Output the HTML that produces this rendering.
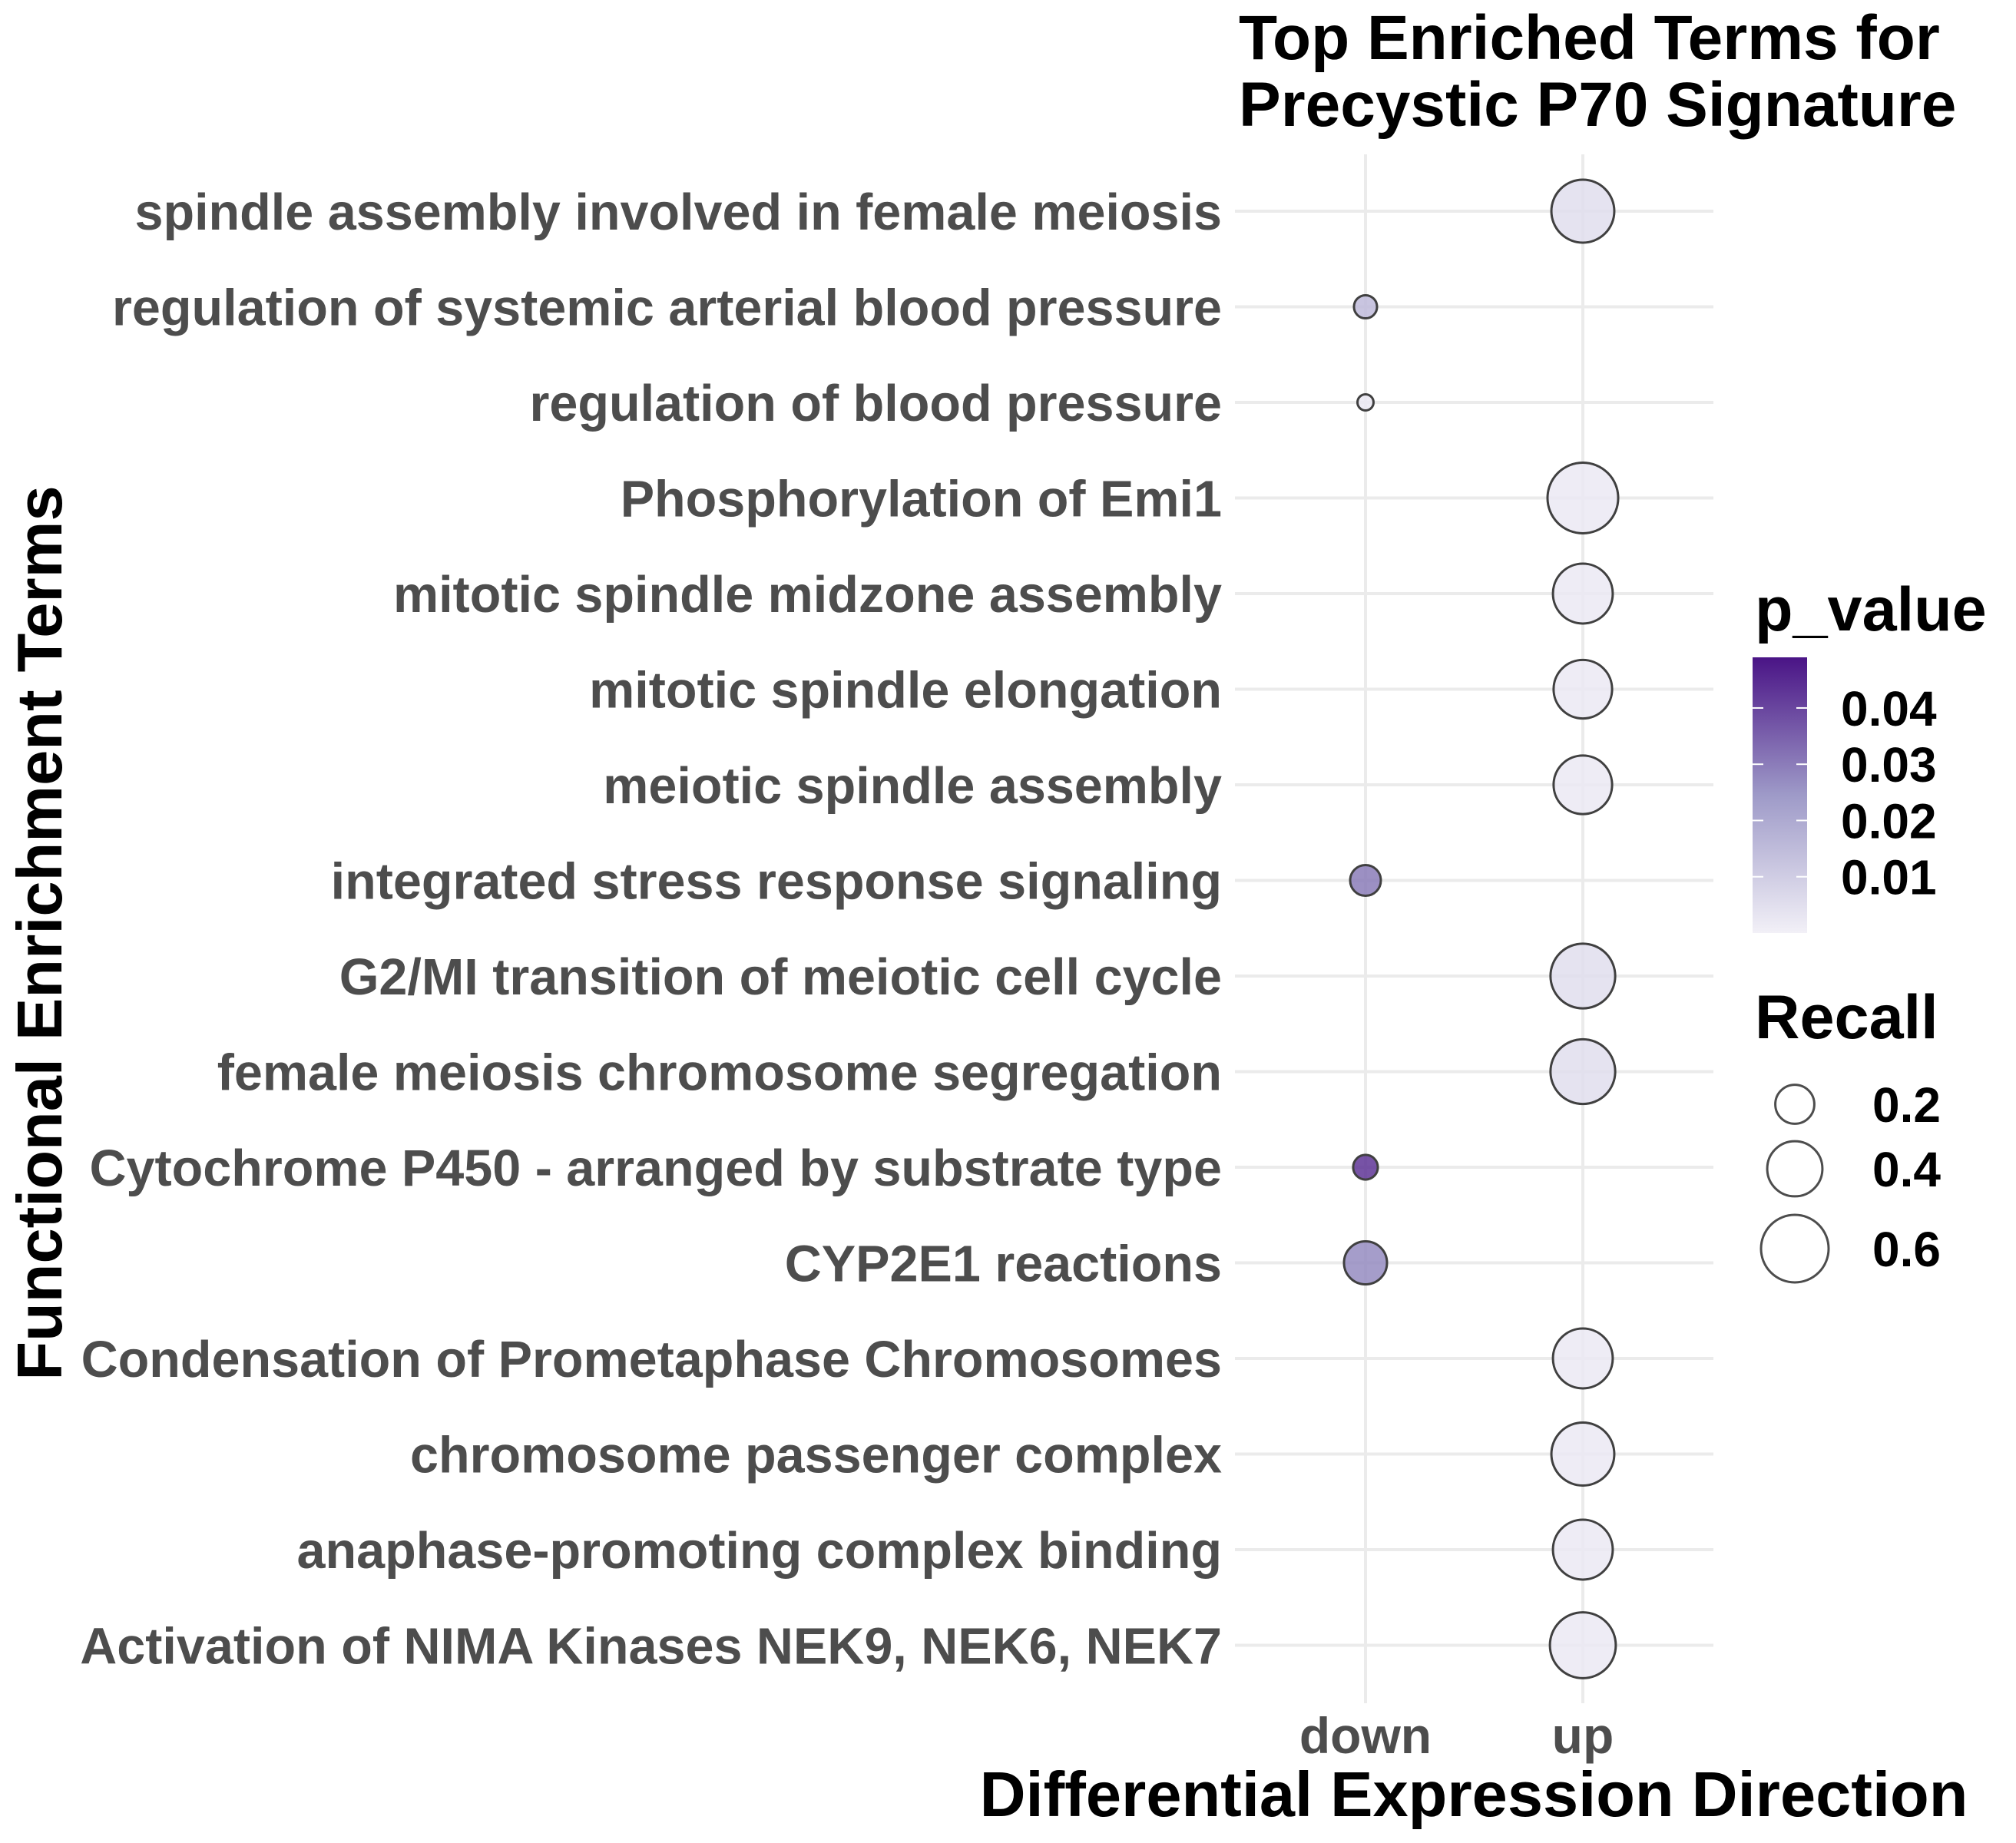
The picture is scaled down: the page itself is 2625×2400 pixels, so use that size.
<!DOCTYPE html>
<html><head><meta charset="utf-8"><style>
html,body{margin:0;padding:0;background:#fff;}
svg{display:block;font-family:"Liberation Sans",Arial,sans-serif;font-weight:bold;}
</style></head><body>
<svg id="chart" width="2625" height="2400" viewBox="0 0 2625 2400" xmlns="http://www.w3.org/2000/svg">
<defs>
<linearGradient id="pgrad" x1="0" y1="1" x2="0" y2="0">
<stop offset="0" stop-color="#f2f0f7"/>
<stop offset="0.5" stop-color="#9e9ac8"/>
<stop offset="1" stop-color="#4a1486"/>
</linearGradient>
</defs>
<g id="title">
<text x="1613" y="77" font-size="82" fill="#000">Top Enriched Terms for</text>
<text x="1613" y="164" font-size="82" fill="#000">Precystic P70 Signature</text>
</g>
<g id="grid"></g>
<g id="ylabels"></g>
<g id="points"></g>
<g id="xlabels"></g>
<text x="1919" y="2365" font-size="83" text-anchor="middle" fill="#000">Differential Expression Direction</text>
<text transform="translate(80,1215) rotate(-90)" font-size="83" text-anchor="middle" fill="#000">Functional Enrichment Terms</text>
<g id="legend-p">
<text x="2285" y="821" font-size="81" fill="#000">p_value</text>
<rect x="2282" y="856" width="71" height="359" fill="url(#pgrad)"/>
</g>
<g id="legend-r">
<text x="2285" y="1352" font-size="81" fill="#000">Recall</text>
</g>
</svg>
<script>
const terms = ["spindle assembly involved in female meiosis","regulation of systemic arterial blood pressure","regulation of blood pressure","Phosphorylation of Emi1","mitotic spindle midzone assembly","mitotic spindle elongation","meiotic spindle assembly","integrated stress response signaling","G2/MI transition of meiotic cell cycle","female meiosis chromosome segregation","Cytochrome P450 - arranged by substrate type","CYP2E1 reactions","Condensation of Prometaphase Chromosomes","chromosome passenger complex","anaphase-promoting complex binding","Activation of NIMA Kinases NEK9, NEK6, NEK7"];
const directions = ["up","down","down","up","up","up","up","down","up","up","down","down","up","up","up","up"];
const recall = [0.52,0.07,0.034,0.656,0.47,0.45,0.45,0.124,0.55,0.55,0.08,0.243,0.47,0.52,0.47,0.57];
const pValues = [0.005,0.015,0.002,0.002,0.002,0.002,0.002,0.03,0.005,0.005,0.043,0.027,0.002,0.002,0.002,0.002];
const xCategories = ["down","up"];
const pTicks = [0.01,0.02,0.03,0.04];
const pTickLabels = ["0.01","0.02","0.03","0.04"];
const recallBreaks = [0.2,0.4,0.6];
const recallLabels = ["0.2","0.4","0.6"];

const NS="http://www.w3.org/2000/svg";
function mk(tag,attrs,parent){const e=document.createElementNS(NS,tag);for(const k in attrs)e.setAttribute(k,attrs[k]);parent.appendChild(e);return e;}
const xScale = c => 1778 + xCategories.indexOf(c)*283;
const yScale = i => 275 + i*124.5;
const rScale = v => Math.sqrt(3227*v);
const pMin=0, pMax=0.049;
const pY = v => 1215 - (v-pMin)/(pMax-pMin)*359;
function lerp(a,b,t){return a+(b-a)*t;}
function hex(h){return [parseInt(h.slice(1,3),16),parseInt(h.slice(3,5),16),parseInt(h.slice(5,7),16)];}
const stops=[[0,hex("#f2f0f7")],[0.5,hex("#9e9ac8")],[1,hex("#4a1486")]];
function pColor(v){let t=Math.max(0,Math.min(1,(v-pMin)/(pMax-pMin)));let i=t<=0.5?0:1;let a=stops[i],b=stops[i+1];let u=(t-a[0])/(b[0]-a[0]);
 return "rgb("+[0,1,2].map(k=>Math.round(lerp(a[1][k],b[1][k],u))).join(",")+")";}

const grid=document.getElementById('grid');
terms.forEach((t,i)=>{
 const l=mk('line',{x1:1608,x2:2231,y1:yScale(i),y2:yScale(i),stroke:"#ebebeb","stroke-width":4},grid);
 
 
});
xCategories.forEach(c=>{
 const l=mk('line',{x1:xScale(c),x2:xScale(c),y1:201,y2:2218,stroke:"#ebebeb","stroke-width":4},grid);
 
 
});
const yl=document.getElementById('ylabels');
terms.forEach((t,i)=>{
 const e=mk('text',{x:1591,y:yScale(i)+24,"font-size":66.5,"text-anchor":"end",fill:"#4d4d4d"},yl);
 e.textContent=t;
 
 
});
const xl=document.getElementById('xlabels');
xCategories.forEach(c=>{
 const e=mk('text',{x:xScale(c),y:2283,"font-size":66,"text-anchor":"middle",fill:"#4d4d4d"},xl);
 e.textContent=c;
 
 
});
const pts=document.getElementById('points');
terms.forEach((t,i)=>{
 const c=mk('circle',{cx:xScale(directions[i]),cy:yScale(i),r:rScale(recall[i]),fill:pColor(pValues[i]),"fill-opacity":0.85,stroke:"#404040","stroke-width":3},pts);
 
 
});
const lp=document.getElementById('legend-p');
pTicks.forEach((v,i)=>{
 const y=pY(v);
 const a=mk('line',{x1:2282,x2:2296,y1:y,y2:y,stroke:"#fff","stroke-width":2},lp);
 
 
 const b=mk('line',{x1:2339,x2:2353,y1:y,y2:y,stroke:"#fff","stroke-width":2},lp);
 
 
 const t=mk('text',{x:2397,y:y+23,"font-size":64,fill:"#000"},lp);
 t.textContent=pTickLabels[i];
 
 
});
const lr=document.getElementById('legend-r');
const legY=[1438,1522,1626];
recallBreaks.forEach((v,i)=>{
 const c=mk('circle',{cx:2337,cy:legY[i],r:rScale(v),fill:"none",stroke:"#4d4d4d","stroke-width":3},lr);
 
 
 const t=mk('text',{x:2438,y:legY[i]+23,"font-size":64,fill:"#000"},lr);
 t.textContent=recallLabels[i];
 
 
});
</script>
</body></html>
